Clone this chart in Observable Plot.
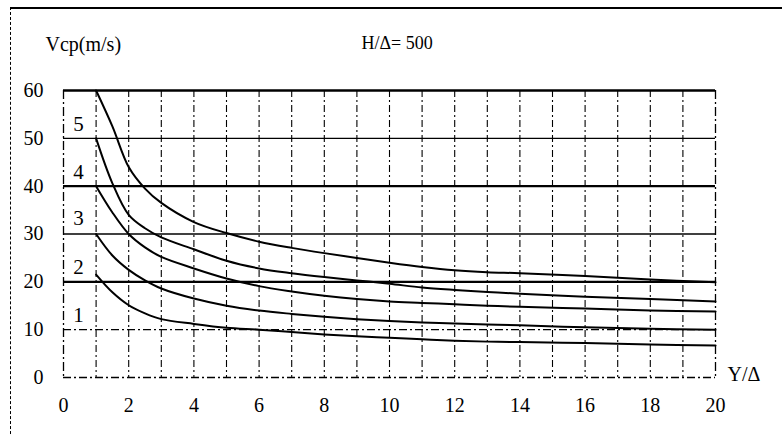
<!DOCTYPE html>
<html>
<head>
<meta charset="utf-8">
<script src="https://cdn.jsdelivr.net/npm/d3@7"></script>
<script src="https://cdn.jsdelivr.net/npm/@observablehq/plot@0.6"></script>
<style>
  html, body { margin: 0; padding: 0; background: #fff; }
  #wrap { position: relative; width: 782px; height: 436px; overflow: hidden; }
  #frame { position: absolute; left: 10px; top: 7px; width: 790px; height: 440px;
           border-top: 2px solid #000; border-left: 1.5px dashed #000; pointer-events: none; }
  svg { font-family: "Liberation Serif", "DejaVu Serif", serif; }
</style>
</head>
<body>
<div id="wrap"><div id="frame"></div></div>
<script>
// Critical velocity Vcp (m/s) against Y/Δ for H/Δ = 500, curves 1–5
const xs = [1, 1.5, 2, 2.5, 3, 4, 5, 6, 7, 8, 9, 10, 11, 12, 13, 14, 16, 18, 20];
const curve5 = [60, 52.5, 44, 39.5, 36.5, 32.5, 30.2, 28.4, 27.1, 26.0, 25.0, 24.0, 23.1, 22.4, 22.0, 21.8, 21.2, 20.5, 19.9];
const curve4 = [50, 40.6, 34, 31.2, 29.3, 26.8, 24.4, 22.8, 21.8, 21.0, 20.3, 19.6, 18.8, 18.3, 17.9, 17.5, 16.9, 16.4, 15.9];
const curve3 = [40, 34.5, 30, 27.2, 25.2, 22.8, 20.7, 19.1, 18.0, 17.1, 16.4, 15.9, 15.6, 15.3, 15.0, 14.8, 14.4, 14.0, 13.8];
const curve2 = [30, 25.5, 22.5, 20.3, 18.6, 16.5, 15.0, 14.0, 13.3, 12.7, 12.2, 11.8, 11.5, 11.3, 11.1, 10.9, 10.5, 10.2, 10.0];
const curve1 = [21.5, 17.8, 15.1, 13.4, 12.2, 11.2, 10.4, 10.0, 9.5, 9.0, 8.6, 8.3, 8.0, 7.7, 7.5, 7.4, 7.2, 6.9, 6.7];

const curveNames = ["1", "2", "3", "4", "5"];
const curveLabelY = [13, 23, 33.3, 43, 53];
const curveLabelX = 0.46;

const xTicks = [0, 2, 4, 6, 8, 10, 12, 14, 16, 18, 20];
const yTicks = [0, 10, 20, 30, 40, 50, 60];
const gridX = d3.range(1, 20);
const borderX = [0, 20];
const heavyY = [20, 40, 60];
const lightY = [30, 50];
const dashY = [0, 10];

const series = [curve1, curve2, curve3, curve4, curve5];
const rows = series.flatMap((vals, i) => vals.map((v, j) => ({curve: curveNames[i], x: xs[j], y: v})));
const labels = curveNames.map((n, i) => ({name: n, x: curveLabelX, y: curveLabelY[i]}));

const chart = Plot.plot({
  width: 782,
  height: 436,
  marginLeft: 63,
  marginRight: 67,
  marginTop: 90,
  marginBottom: 59,
  style: {background: "transparent", color: "#000", fontFamily: "Liberation Serif, serif"},
  x: {domain: [0, 20]},
  y: {domain: [0, 60]},
  marks: [
    Plot.ruleX(gridX, {stroke: "#000", strokeWidth: 1.1, strokeDasharray: "7,3,2,3"}),
    Plot.ruleX(borderX, {stroke: "#000", strokeWidth: 1.3, strokeDasharray: "9,3,2,3"}),
    Plot.ruleY(dashY, {stroke: "#000", strokeWidth: 1.4, strokeDasharray: "8,3,2,3"}),
    Plot.ruleY(lightY, {stroke: "#000", strokeWidth: 1.3}),
    Plot.ruleY(heavyY, {stroke: "#000", strokeWidth: 2.4}),
    Plot.line(rows, {x: "x", y: "y", z: "curve", stroke: "#000", strokeWidth: 2, curve: "catmull-rom"}),
    Plot.text(labels, {x: "x", y: "y", text: "name", fontSize: 21, fill: "#000"}),
    Plot.axisX(xTicks, {tickSize: 0, tickPadding: 20, fontSize: 20, label: null}),
    Plot.axisY(yTicks, {tickSize: 0, tickPadding: 20, fontSize: 20, label: null}),
    Plot.text(["Vcp(m/s)"], {frameAnchor: "top-left", dx: -18, dy: -54, textAnchor: "start", fontSize: 20}),
    Plot.text(["H/Δ= 500"], {frameAnchor: "top-left", dx: 298, dy: -54, textAnchor: "start", fontSize: 18}),
    Plot.text(["Y/Δ"], {frameAnchor: "bottom-right", dx: 12, dy: 3, textAnchor: "start", fontSize: 20})
  ]
});
document.getElementById("wrap").prepend(chart);
</script>
</body>
</html>
